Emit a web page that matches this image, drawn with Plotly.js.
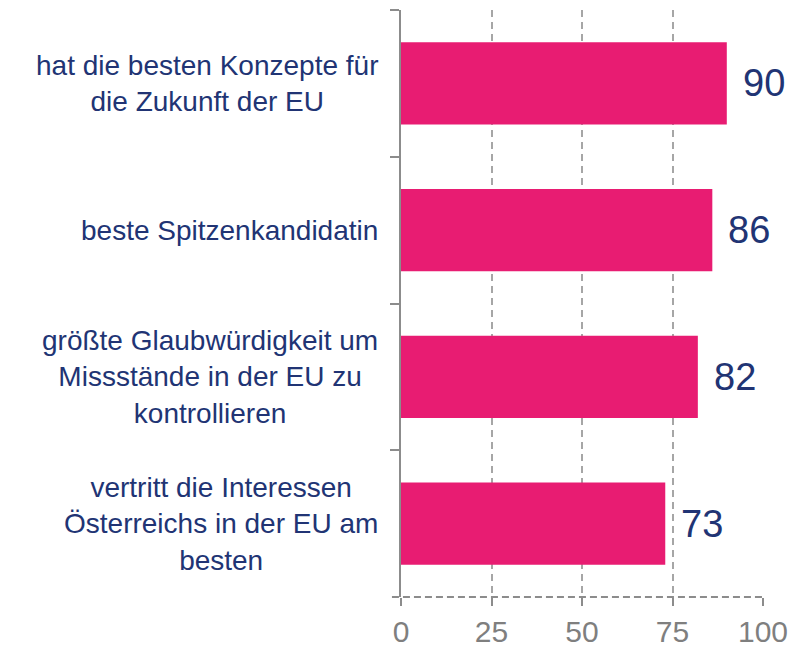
<!DOCTYPE html>
<html>
<head>
<meta charset="utf-8">
<script src="https://cdn.plot.ly/plotly-3.0.1.min.js"></script>
<style>html,body{margin:0;padding:0;background:#fff;}#chart{width:804px;height:649px;}</style>
</head>
<body>
<div id="chart"></div>
<script>
const categories = [
  "hat die besten Konzepte für<br>die Zukunft der EU",
  "beste Spitzenkandidatin",
  "größte Glaubwürdigkeit um<br>Missstände in der EU zu<br>kontrollieren",
  "vertritt die Interessen<br>Österreichs in der EU am<br>besten"
];
const values = [90, 86, 82, 73];
const tickValues = [0, 25, 50, 75, 100];
const tickLabels = ["0", "25", "50", "75", "100"];

const navy = "#213474";
const pink = "#E81C72";
const gray = "#8c8c8c";
const font = "Liberation Sans, Arial, sans-serif";

const trace = {
  type: "bar",
  orientation: "h",
  y: categories,
  x: values,
  marker: {color: pink},
  width: 0.56,
  hoverinfo: "none"
};

const annotations = [];
categories.forEach((c, i) => {
  annotations.push({
    xref: "paper", yref: "y", x: 0, y: c,
    xanchor: "right", yanchor: "middle", xshift: -21,
    text: c, align: "center", showarrow: false,
    font: {family: font, size: 28, color: navy}
  });
  annotations.push({
    xref: "x", yref: "y", x: values[i], y: c,
    xanchor: "left", yanchor: "middle", xshift: 14,
    text: String(values[i]), showarrow: false,
    font: {family: font, size: 38, color: navy}
  });
});

const layout = {
  width: 804, height: 649,
  margin: {l: 401, r: 41, t: 10, b: 52},
  paper_bgcolor: "#fff", plot_bgcolor: "#fff",
  showlegend: false,
  xaxis: {
    range: [0, 100],
    tickvals: tickValues, ticktext: tickLabels,
    tickfont: {family: font, size: 30, color: "#7f7f7f"},
    showgrid: true, gridcolor: "#a6a6a6", gridwidth: 2, griddash: "7px,5px",
    zeroline: false, showline: false,
    ticks: "outside", ticklen: 8, tickcolor: gray, tickwidth: 2,
    fixedrange: true
  },
  yaxis: {
    autorange: "reversed",
    showticklabels: false,
    showline: true, linecolor: gray, linewidth: 2,
    ticks: "outside", tickson: "boundaries", ticklen: 9, tickcolor: gray, tickwidth: 2,
    showgrid: false, zeroline: false,
    fixedrange: true
  },
  shapes: [{
    type: "line", xref: "paper", yref: "paper",
    x0: -0.025, x1: 1, y0: 0, y1: 0,
    line: {color: gray, width: 2, dash: "7px,4px"}
  }],
  annotations: annotations
};

Plotly.newPlot("chart", [trace], layout, {displayModeBar: false, staticPlot: true});
</script>
</body>
</html>
